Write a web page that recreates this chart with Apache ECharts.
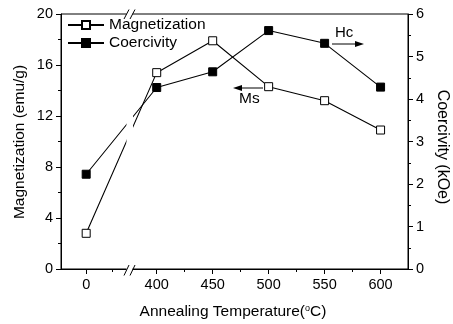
<!DOCTYPE html>
<html><head><meta charset="utf-8">
<script src="https://cdn.jsdelivr.net/npm/echarts@6/dist/echarts.min.js"></script>
<style>html,body{margin:0;padding:0;background:#fff}#c{width:453px;height:324px}</style>
</head><body><div id="c"></div>
<script>
// ---- data ----
const temperatures = [0, 400, 450, 500, 550, 600];
const tempLabels = ['0', '400', '450', '500', '550', '600'];
const magnetization = [2.8, 15.4, 17.9, 14.3, 13.2, 10.9];
const coercivity = [2.23, 4.27, 4.64, 5.61, 5.31, 4.28];
const seriesNames = ['Magnetization', 'Coercivity'];

// ---- broken x axis: 0 is placed just left of the break ----
const BREAK_ZERO = 337;
const axisPos = t => (t === 0 ? BREAK_ZERO : t);
const majorX = temperatures.map(axisPos);
const minorX = [360, 425, 475, 525, 575];
const FONT = 'Liberation Sans, Arial, Helvetica, sans-serif';

const chart = echarts.init(document.getElementById('c'), null, { renderer: 'canvas' });
const black = '#000';

function labelFor(v) {
  const i = majorX.findIndex(p => Math.abs(p - v) < 0.01);
  return i >= 0 ? tempLabels[i] : '';
}

chart.setOption({
  animation: false,
  backgroundColor: '#fff',
  textStyle: { fontFamily: FONT, color: black },
  grid: { left: 61, right: 45, top: 14, bottom: 55, show: true, borderColor: black, borderWidth: 1, backgroundColor: 'transparent' },
  legend: {
    orient: 'vertical', left: 67, top: 17, padding: 0, itemGap: 2,
    itemWidth: 36, itemHeight: 10,
    textStyle: { fontSize: 15.5, color: black, fontFamily: FONT },
    data: seriesNames
  },
  xAxis: [
    {
      type: 'value', min: 314.5, max: 624.5, position: 'bottom',
      axisLine: { show: true, lineStyle: { color: black, width: 1 } },
      axisTick: { show: true, customValues: majorX, length: 5, lineStyle: { color: black } },
      axisLabel: { show: true, customValues: majorX, formatter: labelFor, fontSize: 14.5, margin: 8, color: black, fontFamily: FONT },
      splitLine: { show: false }
    },
    {
      type: 'value', min: 314.5, max: 624.5, position: 'bottom',
      axisLine: { show: false },
      axisTick: { show: true, customValues: minorX, length: 3, lineStyle: { color: black } },
      axisLabel: { show: false },
      splitLine: { show: false }
    }
  ],
  yAxis: [
    {
      type: 'value', min: 0, max: 20, interval: 4, position: 'left',
      axisLine: { show: true, lineStyle: { color: black } },
      axisTick: { show: true, length: 5, lineStyle: { color: black } },
      minorTick: { show: true, splitNumber: 2, length: 3, lineStyle: { color: black } },
      axisLabel: { fontSize: 14.5, margin: 8, color: black, fontFamily: FONT },
      splitLine: { show: false }
    },
    {
      type: 'value', min: 0, max: 6, interval: 1, position: 'right',
      axisLine: { show: true, lineStyle: { color: black } },
      axisTick: { show: true, length: 5, lineStyle: { color: black } },
      minorTick: { show: true, splitNumber: 2, length: 3, lineStyle: { color: black } },
      axisLabel: { fontSize: 14.5, margin: 8, color: black, fontFamily: FONT },
      splitLine: { show: false }
    }
  ],
  series: [
    {
      name: seriesNames[0], type: 'line', xAxisIndex: 0, yAxisIndex: 0,
      data: temperatures.map((t, i) => [axisPos(t), magnetization[i]]),
      symbol: 'rect', symbolSize: 8,
      lineStyle: { color: black, width: 1.1 },
      itemStyle: { color: '#fff', borderColor: black, borderWidth: 1 },
      z: 3
    },
    {
      name: seriesNames[1], type: 'line', xAxisIndex: 0, yAxisIndex: 1,
      data: temperatures.map((t, i) => [axisPos(t), coercivity[i]]),
      symbol: 'rect', symbolSize: 8,
      lineStyle: { color: black, width: 1.1 },
      itemStyle: { color: black, borderColor: black, borderWidth: 1 },
      z: 3
    }
  ],
  graphic: [
    // break gaps
    { type: 'rect', shape: { x: 126.5, y: 9, width: 6, height: 11 }, style: { fill: '#fff' }, z: 100 },
    { type: 'rect', shape: { x: 126.5, y: 95, width: 6.5, height: 60 }, style: { fill: '#fff' }, z: 100 },
    { type: 'rect', shape: { x: 126.5, y: 264, width: 6, height: 11 }, style: { fill: '#fff' }, z: 100 },
    { type: 'line', shape: { x1: 124, y1: 19, x2: 129, y2: 9.5 }, style: { stroke: black, lineWidth: 1 }, z: 101 },
    { type: 'line', shape: { x1: 130, y1: 19, x2: 135, y2: 9.5 }, style: { stroke: black, lineWidth: 1 }, z: 101 },
    { type: 'line', shape: { x1: 124, y1: 275.5, x2: 129, y2: 265 }, style: { stroke: black, lineWidth: 1 }, z: 101 },
    { type: 'line', shape: { x1: 130, y1: 275.5, x2: 135, y2: 265 }, style: { stroke: black, lineWidth: 1 }, z: 101 },
    // Hc annotation
    { type: 'text', x: 335, y: 33, style: { text: 'Hc', fontSize: 15, fontFamily: FONT, fill: black, align: 'left', verticalAlign: 'middle' }, z: 101 },
    { type: 'line', shape: { x1: 332, y1: 44, x2: 357, y2: 44 }, style: { stroke: black, lineWidth: 1 }, z: 101 },
    { type: 'polygon', shape: { points: [[364, 44], [355, 41], [355, 47]] }, style: { fill: black }, z: 101 },
    // Ms annotation
    { type: 'text', x: 239, y: 99, style: { text: 'Ms', fontSize: 15.5, fontFamily: FONT, fill: black, align: 'left', verticalAlign: 'middle' }, z: 101 },
    { type: 'line', shape: { x1: 263, y1: 88, x2: 240, y2: 88 }, style: { stroke: black, lineWidth: 1 }, z: 101 },
    { type: 'polygon', shape: { points: [[233, 88], [242, 85], [242, 91]] }, style: { fill: black }, z: 101 },
    // axis titles
    { type: 'text', x: 19.5, y: 142, rotation: Math.PI / 2, style: { text: 'Magnetization (emu/g)', fontSize: 15.5, fontFamily: FONT, fill: black, align: 'center', verticalAlign: 'middle' }, z: 101 },
    { type: 'text', x: 442, y: 147, rotation: -Math.PI / 2, style: { text: 'Coercivity (kOe)', fontSize: 16, fontFamily: FONT, fill: black, align: 'center', verticalAlign: 'middle' }, z: 101 },
    { type: 'text', x: 233, y: 312, style: { text: 'Annealing Temperature({s|o}C)', fontSize: 15.5, fontFamily: FONT, fill: black, align: 'center', verticalAlign: 'middle',
        rich: { s: { fontSize: 9, fontFamily: FONT, fill: black, verticalAlign: 'top', padding: [0, 0, 7, 0] } } }, z: 101 }
  ]
});
</script>
</body></html>
